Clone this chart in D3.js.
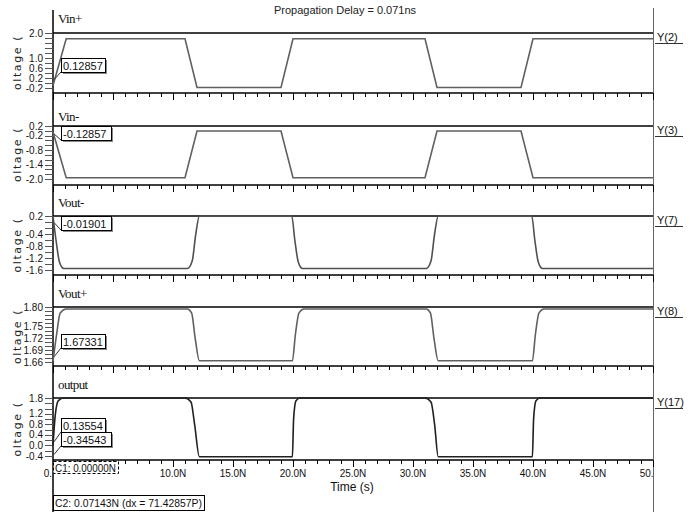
<!DOCTYPE html>
<html><head><meta charset="utf-8">
<script src="https://cdn.jsdelivr.net/npm/d3@7"></script>
<style>
html,body{margin:0;padding:0;background:#fff;}
svg{display:block;}
</style></head>
<body><svg id="c" width="692" height="512"></svg>
<script>
// ---------- DATA ----------
const chartTitle = "Propagation Delay = 0.071ns";
const signalNames = ["Vin+", "Vin-", "Vout-", "Vout+", "output"];
const nodeLabels = ["Y(2)", "Y(3)", "Y(7)", "Y(8)", "Y(17)"];
const yAxisTitle = "oltage (";
const xAxisTitle = "Time (s)";
const yDomains = [[-0.2, 2.0], [-2.0, 0.2], [-1.6, 0.2], [1.66, 1.80], [-0.4, 1.8]];
const yTickLabels = [
  [2.0, 1.0, 0.6, 0.2, -0.2],
  [0.2, -0.2, -0.8, -1.4, -2.0],
  [0.2, -0.4, -0.8, -1.2, -1.6],
  [1.80, 1.75, 1.72, 1.69, 1.66],
  [1.8, 1.2, 0.8, 0.4, 0.0, -0.4]
];
const yTickDecimals = [1, 1, 1, 2, 1];
const yMinorSteps = [0.2, 0.2, 0.2, 0.01, 0.2];
const xDomain = [0, 50];
// 5.0N is hidden under the C1 cursor box in the original
const xLabelTicks = [0, 10, 15, 20, 25, 30, 35, 40, 45, 50];
const xTickLabels = ["0.", "10.0N", "15.0N", "20.0N", "25.0N", "30.0N", "35.0N", "40.0N", "45.0N", "50.0N"];

// waveforms (time in ns, value in V)
const vinpT = [0, 1.1, 11.0, 12.0, 19.0, 20.0, 31.0, 32.0, 39.0, 40.0, 50];
const vinpV = [-0.1, 1.77, 1.77, -0.18, -0.18, 1.77, 1.77, -0.18, -0.18, 1.77, 1.77];
const vinnT = [0, 1.1, 11.0, 12.0, 19.0, 20.0, 31.0, 32.0, 39.0, 40.0, 50];
const vinnV = [-0.05, -1.95, -1.95, -0.01, -0.01, -1.95, -1.95, -0.01, -0.01, -1.95, -1.95];
const voutnT = [0, 0.25, 0.55, 0.9, 11.2, 11.6, 11.9, 12.2, 19.9, 20.15, 20.45, 20.8, 31.1, 31.5, 31.8, 32.1, 39.9, 40.15, 40.45, 40.8, 50];
const voutnV = [0.2, -0.6, -1.35, -1.55, -1.55, -1.3, -0.4, 0.19, 0.19, -0.6, -1.35, -1.55, -1.55, -1.3, -0.4, 0.19, 0.19, -0.6, -1.35, -1.55, -1.55];
const voutpT = [0, 0.3, 0.6, 1.1, 11.2, 11.55, 11.85, 12.2, 19.95, 20.2, 20.5, 20.9, 31.1, 31.45, 31.75, 32.1, 39.95, 40.2, 40.5, 40.9, 50];
const voutpV = [1.662, 1.73, 1.785, 1.795, 1.795, 1.785, 1.72, 1.663, 1.663, 1.73, 1.785, 1.795, 1.795, 1.785, 1.72, 1.663, 1.663, 1.73, 1.785, 1.795, 1.795];
const outT = [0, 0.2, 0.45, 0.9, 11.0, 11.5, 11.8, 12.2, 19.95, 20.05, 20.25, 20.6, 31.0, 31.5, 31.8, 32.1, 39.95, 40.05, 40.25, 40.6, 50];
const outV = [0.0, 1.2, 1.7, 1.8, 1.8, 1.65, 0.8, -0.43, -0.43, 1.0, 1.7, 1.8, 1.8, 1.65, 0.8, -0.43, -0.43, 1.0, 1.7, 1.8, 1.8];

const cursorValues = [[0.12857], [-0.12857], [-0.01901], [1.67331], [0.13554, -0.34543]];
const cursor1Text = "C1: 0.00000N";
const cursor2Text = "C2: 0.07143N (dx = 71.42857P)";

const series = [
  {t: vinpT, v: vinpV, color: "#606060", curve: d3.curveLinear},
  {t: vinnT, v: vinnV, color: "#606060", curve: d3.curveLinear},
  {t: voutnT, v: voutnV, color: "#505050", curve: d3.curveMonotoneX},
  {t: voutpT, v: voutpV, color: "#606060", curve: d3.curveMonotoneX},
  {t: outT, v: outV, color: "#202020", curve: d3.curveMonotoneX}
];

// ---------- LAYOUT ----------
const X0 = 53, X1 = 653;
const panelTop = [33, 126, 216, 307, 398];
const panelBot = [88, 179, 270, 362, 456];
const axisY = [93, 185, 275, 366, 460];
const nameY = [23, 121, 207, 298, 389];

const svg = d3.select("#c");
const x = d3.scaleLinear().domain(xDomain).range([X0, X1]);
const narrow = "'Liberation Sans Narrow','Arial Narrow','Liberation Sans',sans-serif";

svg.append("defs").append("clipPath").attr("id", "plotclip")
  .append("rect").attr("x", 0).attr("y", 0).attr("width", X1 + 1).attr("height", 512);

// title
svg.append("text").attr("x", 345).attr("y", 14).attr("text-anchor", "middle")
  .attr("font-family", narrow).attr("font-size", 11).attr("fill", "#222").text(chartTitle);

// frame verticals
svg.append("line").attr("x1", X0).attr("x2", X0).attr("y1", 10).attr("y2", 512).attr("stroke", "#000").attr("stroke-width", 1.5);
svg.append("line").attr("x1", X1 + 0.5).attr("x2", X1 + 0.5).attr("y1", 8).attr("y2", 512).attr("stroke", "#666").attr("stroke-width", 1);

signalNames.forEach((name, i) => {
  const y = d3.scaleLinear().domain(yDomains[i]).range([panelBot[i], panelTop[i]]);
  const g = svg.append("g");

  // top border line
  g.append("line").attr("x1", X0).attr("x2", X1).attr("y1", panelTop[i]).attr("y2", panelTop[i])
    .attr("stroke", "#000").attr("stroke-width", 1.5);

  // x axis per panel
  const xa = d3.axisBottom(x).tickValues(d3.range(0, 51, 1)).tickSize(3).tickFormat("");
  const xag = g.append("g").attr("transform", `translate(0,${axisY[i]})`).call(xa);
  xag.select(".domain").attr("stroke", "#000").attr("stroke-width", 1.5).attr("d", `M${X0},0H${X1}`);
  xag.selectAll(".tick line").attr("stroke", "#000").attr("y2", d => d % 5 === 0 ? 7 : 4);

  // y axis: minor ticks + labels
  const yd = yDomains[i];
  const minor = d3.range(Math.round(yd[0] / yMinorSteps[i]), Math.round(yd[1] / yMinorSteps[i]) + 1).map(k => k * yMinorSteps[i]);
  g.selectAll(".ymin").data(minor).join("line")
    .attr("x1", X0 - 8).attr("x2", X0).attr("y1", d => Math.round(y(d)) + 0.5).attr("y2", d => Math.round(y(d)) + 0.5)
    .attr("stroke", "#555").attr("stroke-width", 1);
  g.selectAll(".ylab").data(yTickLabels[i]).join("text")
    .attr("x", 43).attr("y", d => y(d) + 3.5).attr("text-anchor", "end")
    .attr("font-family", narrow).attr("font-size", 10).attr("fill", "#111")
    .text(d => d.toFixed(yTickDecimals[i]));

  // y axis title
  const cy = (panelTop[i] + panelBot[i]) / 2 + 2;
  g.append("text").attr("transform", `translate(21,${cy}) rotate(-90)`).attr("text-anchor", "middle")
    .attr("font-family", "'DejaVu Sans',sans-serif").attr("font-size", 11).attr("letter-spacing", 1.6)
    .attr("fill", "#222").text(yAxisTitle);

  // signal name
  g.append("text").attr("x", 58).attr("y", nameY[i])
    .attr("font-family", "'Liberation Serif','Times New Roman',serif").attr("font-size", 13)
    .attr("letter-spacing", -0.6).attr("fill", "#111").text(name);

  // trace
  const s = series[i];
  const pts = s.t.map((t, k) => [t, s.v[k]]);
  g.append("path").datum(pts)
    .attr("d", d3.line().x(d => x(d[0])).y(d => y(d[1])).curve(s.curve))
    .attr("fill", "none").attr("stroke", s.color).attr("stroke-width", 1.6);

  // right node label
  g.append("text").attr("x", 657).attr("y", panelTop[i] + 7.5)
    .attr("font-family", narrow).attr("font-size", 11).attr("fill", "#111").text(nodeLabels[i]);
  g.append("line").attr("x1", 655).attr("x2", 683).attr("y1", panelTop[i] + 10.5).attr("y2", panelTop[i] + 10.5)
    .attr("stroke", "#333").attr("stroke-width", 1);

  // cursor value boxes
  cursorValues[i].forEach((val, k) => {
    const label = val.toFixed(5);
    const bx = 61, by = panelTop[i] + (i === 0 ? 25 : (i === 3 ? 27 : 0)) + (i === 4 ? 20 + k * 14 : 0);
    const bw = label.length * 6 + 2, bh = 14;
    g.append("line").attr("x1", X0 + 1).attr("y1", y(val)).attr("x2", bx).attr("y2", by + bh)
      .attr("stroke", "#333").attr("stroke-width", 1);
    g.append("rect").attr("x", bx + 2).attr("y", by + 2).attr("width", bw).attr("height", bh).attr("fill", "#888");
    g.append("rect").attr("x", bx + 0.5).attr("y", by + 0.5).attr("width", bw).attr("height", bh)
      .attr("fill", "#fff").attr("stroke", "#000").attr("stroke-width", 1);
    g.append("text").attr("x", bx + 2).attr("y", by + 12)
      .attr("font-family", "'Liberation Sans',sans-serif").attr("font-size", 11).attr("fill", "#111").text(label);
  });
});

// bottom x tick labels
svg.append("g").attr("clip-path", "url(#plotclip)").selectAll("text").data(xLabelTicks).join("text")
  .attr("x", d => d === 0 ? x(d) - 1 : x(d)).attr("y", 477).attr("text-anchor", d => d === 0 ? "end" : "middle")
  .attr("font-family", narrow).attr("font-size", 10).attr("fill", "#111")
  .text((d, k) => xTickLabels[k]);

svg.append("text").attr("x", 352).attr("y", 491).attr("text-anchor", "middle")
  .attr("font-family", narrow).attr("font-size", 12).attr("fill", "#111").text(xAxisTitle);

// cursor boxes
svg.append("rect").attr("x", 53.5).attr("y", 461.5).attr("width", 65).attr("height", 12)
  .attr("fill", "#fff").attr("stroke", "#000").attr("stroke-dasharray", "3,2");
svg.append("text").attr("x", 55).attr("y", 472).attr("font-family", "'Liberation Sans',sans-serif")
  .attr("font-size", 11).attr("textLength", 61).attr("lengthAdjust", "spacingAndGlyphs")
  .attr("fill", "#111").text(cursor1Text);
svg.append("rect").attr("x", 53.5).attr("y", 495.5).attr("width", 151).attr("height", 15)
  .attr("fill", "#fff").attr("stroke", "#000");
svg.append("text").attr("x", 55).attr("y", 507).attr("font-family", "'Liberation Sans',sans-serif")
  .attr("font-size", 11).attr("textLength", 147).attr("lengthAdjust", "spacingAndGlyphs")
  .attr("fill", "#111").text(cursor2Text);
</script>
</body></html>
